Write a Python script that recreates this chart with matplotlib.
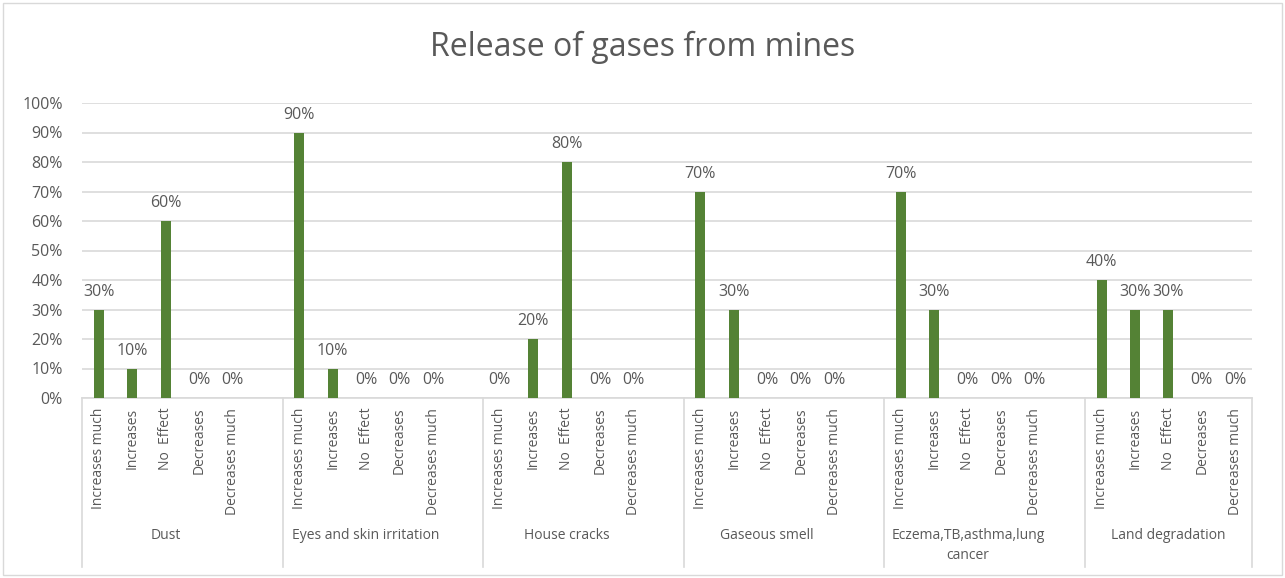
import matplotlib
matplotlib.use("Agg")
import matplotlib.pyplot as plt
import matplotlib.transforms as mtransforms
from matplotlib.patches import Rectangle

plt.rcParams['font.family'] = ['Open Sans', 'DejaVu Sans']

groups = ["Dust", "Eyes and skin irritation", "House cracks", "Gaseous smell",
          "Eczema,TB,asthma,lung\ncancer", "Land degradation"]
levels = ["Increases much", "Increases", "No  Effect", "Decreases", "Decreases much"]
dust = [0.30, 0.10, 0.60, 0.0, 0.0]
eyes = [0.90, 0.10, 0.0, 0.0, 0.0]
house = [0.0, 0.20, 0.80, 0.0, 0.0]
gaseous = [0.70, 0.30, 0.0, 0.0, 0.0]
eczema = [0.70, 0.30, 0.0, 0.0, 0.0]
land = [0.40, 0.30, 0.30, 0.0, 0.0]
series = [dust, eyes, house, gaseous, eczema, land]

green = "#548235"
grey_txt = "#595959"
grid_col = "#d9d9d9"

fig = plt.figure(figsize=(12.85, 5.78), dpi=100)
ax = fig.add_axes([82 / 1285, 1 - 398 / 578, (1252 - 82) / 1285, (398 - 103) / 578])

# each group takes 6 slots (5 levels + a blank one), last group has no blank
xs, vals, ticks = [], [], []
for g, vs in enumerate(series):
    for j, v in enumerate(vs):
        xs.append(g * 6 + j)
        vals.append(v)
        ticks.append(levels[j])

ax.bar(xs, vals, width=0.3, color=green, zorder=3)
for x, v in zip(xs, vals):
    ax.annotate("{:.0f}%".format(v * 100), (x, v), xytext=(0, 7), textcoords="offset points",
                ha="center", va="bottom", fontsize=11.5, color=grey_txt)

ax.set_xlim(-0.5, len(groups) * 6 - 1.5)
ax.set_ylim(0, 1.0)
ax.set_yticks([i / 10 for i in range(11)])
ax.set_yticklabels(["{}%".format(i * 10) for i in range(11)])
ax.set_xticks(xs)
ax.set_xticklabels(ticks, rotation=90, va="top", ha="center")
ax.tick_params(axis="x", length=0, pad=7, labelsize=10, labelcolor=grey_txt)
ax.tick_params(axis="y", length=0, pad=14, labelsize=11.5, labelcolor=grey_txt)
ax.grid(axis="y", color=grid_col, linewidth=1.2, zorder=0)
for s in ["top", "right", "left"]:
    ax.spines[s].set_visible(False)
ax.spines["bottom"].set_color(grid_col)
ax.spines["bottom"].set_linewidth(1.2)

trans = mtransforms.blended_transform_factory(ax.transData, ax.transAxes)
seps = [g * 6 - 0.5 for g in range(len(groups))] + [len(groups) * 6 - 1.5]
for s in seps:
    ax.plot([s, s], [0, -0.573], transform=trans, color=grid_col, linewidth=1.2, clip_on=False)
for g, name in enumerate(groups):
    ax.text(g * 6 + 2, -0.44, name, transform=trans, ha="center", va="top",
            fontsize=10, color=grey_txt, linespacing=1.45)

fig.text(0.5, 1 - 47 / 578, "Release of gases from mines", ha="center", va="center",
         fontsize=23, color=grey_txt)
fig.patches.append(Rectangle((3 / 1285, 3 / 578), 1279 / 1285, 572 / 578, transform=fig.transFigure,
                             fill=False, edgecolor=grid_col, linewidth=1))

fig.savefig("out.png", dpi=100)
